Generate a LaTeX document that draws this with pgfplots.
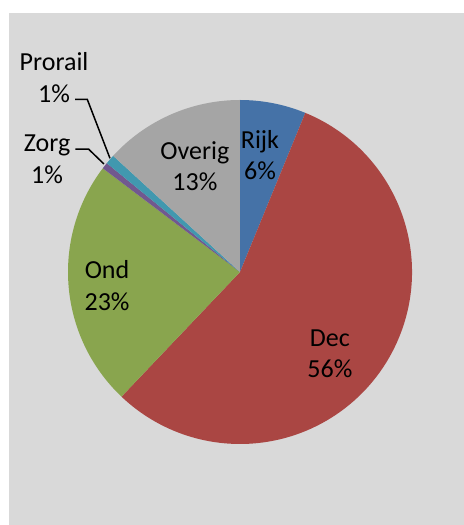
\documentclass[border=0pt]{standalone}
\usepackage{pgfplots}
\usepackage{pgfplotstable}
\pgfplotsset{compat=1.18}
\usepackage{fontspec}
\setmainfont{Carlito}
\definecolor{cRijk}{HTML}{4572A7}
\definecolor{cDec}{HTML}{AA4643}
\definecolor{cOnd}{HTML}{89A54E}
\definecolor{cZorg}{HTML}{71588F}
\definecolor{cProrail}{HTML}{4198AF}
\definecolor{cOverig}{HTML}{A5A5A5}
\definecolor{bg}{HTML}{D9D9D9}
\pgfplotstableread{
name value col
Rijk 6.2 cRijk
Dec 55.9 cDec
Ond 23.2 cOnd
Zorg 0.6 cZorg
Prorail 0.9 cProrail
Overig 13.2 cOverig
}\piedata
\begin{document}
\begin{tikzpicture}
\useasboundingbox (-240bp,272bp) rectangle (224bp,-253bp);
\fill[white] (-240bp,272bp) rectangle (224bp,-253bp);
\fill[bg] (-231bp,259bp) rectangle (224bp,-253bp);
\begin{axis}[
  at={(0,0)}, anchor=origin,
  x=172bp, y=172bp,
  xmin=-1, xmax=1, ymin=-1, ymax=1,
  hide axis, clip=false,
]
\pgfplotstablegetrowsof{\piedata}
\pgfmathtruncatemacro{\last}{\pgfplotsretval-1}
\gdef\cum{0}
\pgfplotsforeachungrouped \i in {0,...,\last}{
  \pgfplotstablegetelem{\i}{value}\of\piedata \let\v\pgfplotsretval
  \pgfplotstablegetelem{\i}{col}\of\piedata \let\c\pgfplotsretval
  \pgfmathsetmacro{\a}{90-3.6*\cum}
  \pgfmathsetmacro{\b}{90-3.6*(\cum+\v)}
  \edef\temp{\noexpand\fill[\c] (axis cs:0,0) -- (axis cs:{cos(\a)},{sin(\a)}) arc[start angle=\a, end angle=\b, radius=172bp] -- cycle;}
  \temp
  \pgfmathsetmacro{\cum}{\cum+\v}
  \global\let\cum\cum
}
\tikzset{lbl/.style={align=center, font=\fontsize{26bp}{31.7bp}\selectfont, inner sep=0pt}}
\node[lbl] at (axis cs:0.116,0.680) {Rijk\\6\%};
\node[lbl] at (axis cs:-0.262,0.616) {Overig\\13\%};
\node[lbl] at (axis cs:-0.773,-0.078) {Ond\\23\%};
\node[lbl] at (axis cs:0.523,-0.475) {Dec\\56\%};
\node[lbl] at (axis cs:-1.122,0.657) {Zorg\\1\%};
\node[lbl] at (axis cs:-1.081,1.131) {Prorail\\1\%};
\draw[black, line width=1.5bp] (axis cs:-0.959,1.004) -- (axis cs:-0.888,1.004) -- (axis cs:-0.756,0.661);
\draw[black, line width=1.5bp] (axis cs:-0.957,0.715) -- (axis cs:-0.881,0.715) -- (axis cs:-0.791,0.628);
\end{axis}
\end{tikzpicture}
\end{document}
